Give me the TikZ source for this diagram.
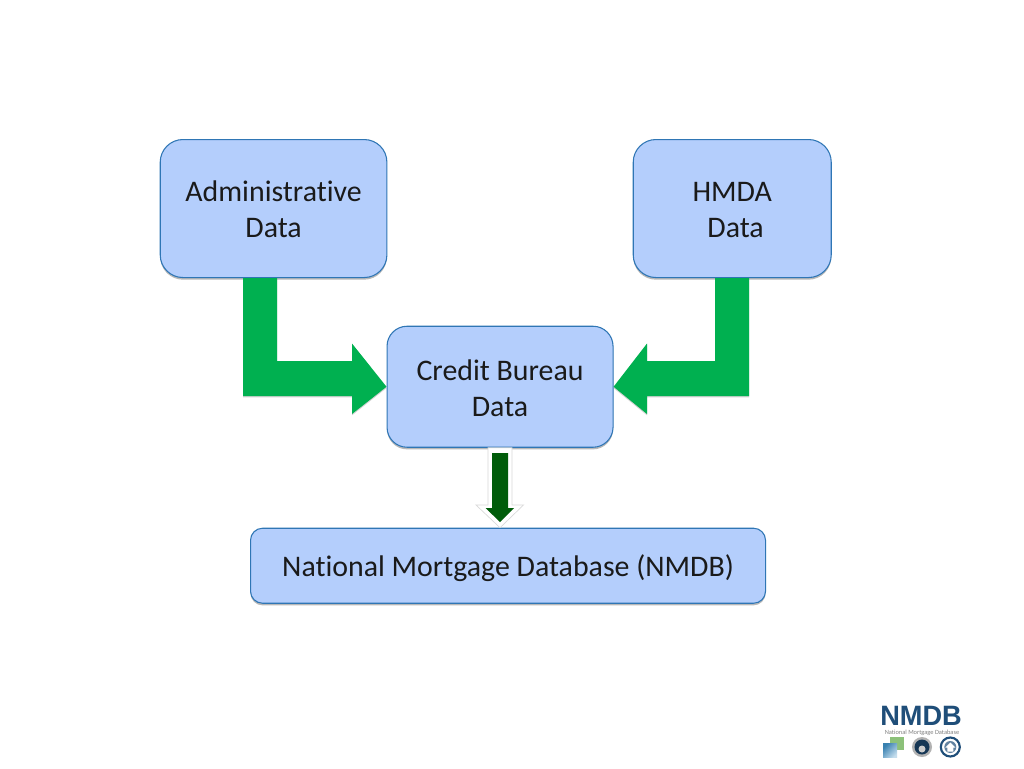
\documentclass[tikz,border=0pt]{standalone}
\usepackage{fontspec}
\setmainfont[Ligatures=NoCommon]{Carlito}
\usetikzlibrary{calc,shadows}
\definecolor{boxfill}{HTML}{B4CEFC}
\definecolor{boxline}{HTML}{2F76B5}
\definecolor{arrowgreen}{HTML}{00B050}
\definecolor{darkarrow}{HTML}{005C0A}
\definecolor{logoblue}{HTML}{1F4E79}
\definecolor{logosq}{HTML}{3F8FC4}
\definecolor{logogreen}{HTML}{8CC17A}
\definecolor{textdark}{HTML}{1A1A1A}
\newcommand{\lowtxt}[2][-0.9pt]{\raisebox{#1}[\height][\depth]{#2}}
\tikzset{
  x=0.75pt,y=-0.75pt,
  databox/.style={draw=boxline,fill=boxfill,line width=0.8pt,align=center,text=textdark,font=\fontsize{22.4}{27}\selectfont,
    inner sep=0pt,anchor=north west,drop shadow={shadow xshift=0pt,shadow yshift=-1.6pt,opacity=.28,fill=black}},
  bigarrow/.style={fill=arrowgreen,draw=none,drop shadow={shadow xshift=0pt,shadow yshift=-1pt,opacity=.18,fill=black}},
  logotext/.style={inner sep=0pt,anchor=center}
}
\begin{document}
\begin{tikzpicture}
\useasboundingbox (0,0) rectangle (1024,768);
\fill[white] (0,0) rectangle (1024,768);
% boxes
\node[databox,rounded corners=17pt,minimum width=170pt,minimum height=103.5pt] (admin) at (159.7,139) {\lowtxt{Administrative}\\\lowtxt{Data}};
\node[databox,rounded corners=17pt,minimum width=148.5pt,minimum height=103.5pt] (hmda) at (632.7,139) {\lowtxt{HMDA}\\\lowtxt{\ Data}};
\node[databox,rounded corners=15pt,minimum width=169.5pt,minimum height=90.75pt] (credit) at (386.5,325.7) {\lowtxt{Credit Bureau}\\\lowtxt{Data}};
\node[databox,rounded corners=9pt,minimum width=386.25pt,minimum height=56.25pt] (nmdb) at (250,527.7) {\lowtxt[-1.9pt]{National Mortgage Database (NMDB)}};
% left bent arrow
\path[bigarrow] (credit.west) -- (352,414) -- (352,396) -- (243,396)
  -- (243,0 |- admin.south) -- (277,0 |- admin.south) -- (277,361) -- (352,361) -- (352,343.5) -- cycle;
% right bent arrow
\path[bigarrow] (credit.east) -- (647,414) -- (647,396) -- (749,396)
  -- (749,0 |- hmda.south) -- (715,0 |- hmda.south) -- (715,361) -- (647,361) -- (647,343.5) -- cycle;
% down arrow
\coordinate (dtip) at (500,0 |- nmdb.north);
\fill[white,draw=black!15,line width=0.5pt] (488,0 |- credit.south) -- (512,0 |- credit.south) -- (512,505) -- (523.5,505) -- (dtip) -- (476,505) -- (488,505) -- cycle;
\fill[darkarrow] (492,453) -- (508,453) -- (508,508) -- (514,508) -- (500,522) -- (485.5,508) -- (492,508) -- cycle;
% logo
\node[logotext,text=logoblue,xscale=0.97] (logoname) at (921,715.5) {\fontspec{Liberation Sans}\bfseries\fontsize{21}{21}\selectfont NMDB};
\node[logotext,text=black!50] (logosub) at (922,733) {\fontsize{4.8}{5}\selectfont National Mortgage Database};
\fill[logogreen] (890,737) rectangle (904,750);
\shade[shading=axis,left color=logosq!90!black,right color=logosq!30,shading angle=45] (883,743.5) rectangle (897,757.5);
\fill[black!30] (922,747) circle (10);
\fill[logoblue!70!black] (922,747) circle (7.5);
\fill[black!20] (922,749) circle (3.5);
\draw[logoblue,line width=1.6pt] (950.3,747) circle (9.5);
\fill[logoblue!70] (950.3,747) circle (6);
\fill[white] (945.3,747.5) -- (950.3,742.5) -- (955.3,747.5) -- (953.3,747.5) -- (953.3,751.5) -- (947.3,751.5) -- (947.3,747.5) -- cycle;
\end{tikzpicture}
\end{document}
